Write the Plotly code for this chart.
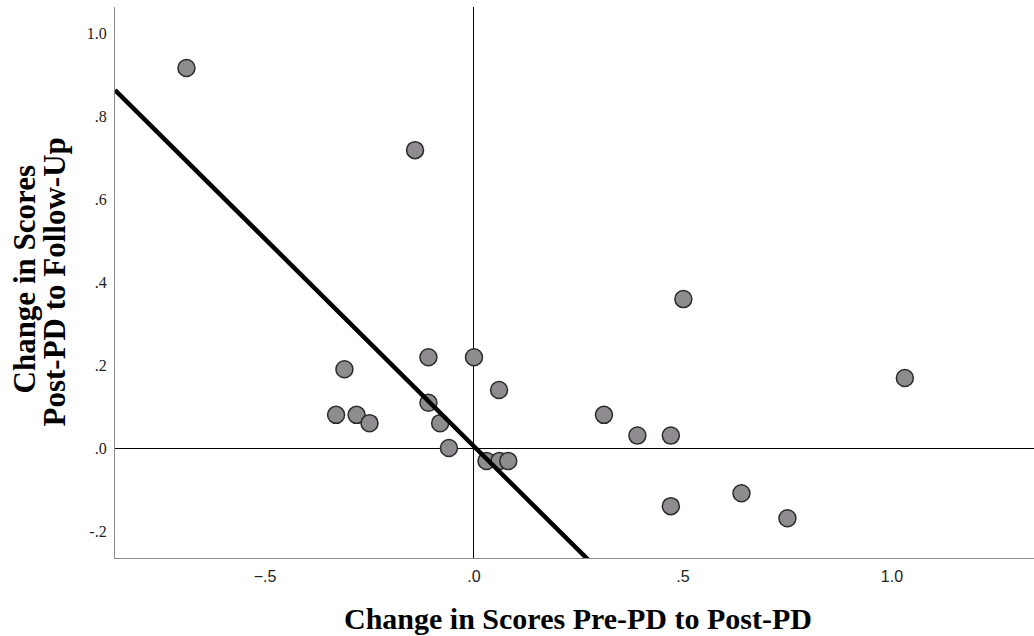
import plotly.graph_objects as go

# Data
x_change_pre_post = [-0.688, -0.141, 0.501, -0.310, -0.109, 0.000, 0.060, 1.031,
                     -0.330, -0.281, -0.250, -0.109, -0.081, -0.060, 0.030, 0.061,
                     0.082, 0.311, 0.391, 0.471, 0.471, 0.640, 0.750]
y_change_post_follow = [0.916, 0.718, 0.359, 0.190, 0.219, 0.219, 0.140, 0.169,
                        0.080, 0.080, 0.060, 0.109, 0.060, 0.000, -0.031, -0.031,
                        -0.031, 0.080, 0.030, 0.030, -0.140, -0.109, -0.169]

# Fit line (as drawn in the reference)
fit_slope = -1.0
fit_intercept = 0.004

x_range = [-0.859, 1.340]
y_range = [-0.265, 1.063]

x_tick_vals = [-0.5, 0.0, 0.5, 1.0]
x_tick_text = ["\u2212.5", ".0", ".5", "1.0"]
y_tick_vals = [-0.2, 0.0, 0.2, 0.4, 0.6, 0.8, 1.0]
y_tick_text = ["-.2", ".0", ".2", ".4", ".6", ".8", "1.0"]

x_title = "Change in Scores Pre-PD to Post-PD"
y_title_lines = ["Change in Scores", "Post-PD to Follow-Up"]

fit_x = [x_range[0], x_range[1]]
fit_y = [fit_intercept + fit_slope * v for v in fit_x]

SERIF = "Liberation Serif, Times New Roman, serif"
SANS = "Liberation Sans, Arial, sans-serif"

fig = go.Figure()
fig.add_trace(go.Scatter(
    x=x_change_pre_post, y=y_change_post_follow, mode="markers",
    marker=dict(size=17, color="#8e8c8e", line=dict(width=1.5, color="#2b2b2b")),
    showlegend=False, cliponaxis=False,
))
fig.add_trace(go.Scatter(
    x=fit_x, y=fit_y, mode="lines",
    line=dict(color="black", width=4.5), showlegend=False,
))

fig.update_layout(
    width=1034, height=636,
    margin=dict(l=115, r=0, t=7, b=78),
    paper_bgcolor="white", plot_bgcolor="white",
    xaxis=dict(
        range=x_range, tickvals=x_tick_vals, ticktext=x_tick_text,
        showgrid=False, zeroline=True, zerolinecolor="black", zerolinewidth=1,
        showline=True, linecolor="#8a8a8a", linewidth=1.2, ticks="",
        tickfont=dict(family=SANS, size=16, color="#222"),
        ticklabelstandoff=4,
        automargin=False,
    ),
    yaxis=dict(
        range=y_range, tickvals=y_tick_vals, ticktext=y_tick_text,
        showgrid=False, zeroline=True, zerolinecolor="black", zerolinewidth=1,
        showline=True, linecolor="#8a8a8a", linewidth=1.2, ticks="",
        tickfont=dict(family=SERIF, size=16, color="#222"),
        ticklabelstandoff=4,
        automargin=False,
    ),
    annotations=[
        dict(text="<b>%s</b>" % x_title, xref="paper", yref="paper", x=0.5, y=0,
             xanchor="center", yanchor="middle", yshift=-60, xshift=3, showarrow=False,
             font=dict(family=SERIF, size=30, color="black")),
        dict(text="<b>%s</b>" % y_title_lines[0], xref="paper", yref="paper", x=0, y=0.5,
             xanchor="center", yanchor="middle", xshift=-91, yshift=3, textangle=-90,
             showarrow=False, font=dict(family=SERIF, size=31, color="black")),
        dict(text="<b>%s</b>" % y_title_lines[1], xref="paper", yref="paper", x=0, y=0.5,
             xanchor="center", yanchor="middle", xshift=-61, textangle=-90,
             showarrow=False, font=dict(family=SERIF, size=31, color="black")),
    ],
)

fig.write_html("out.html")
